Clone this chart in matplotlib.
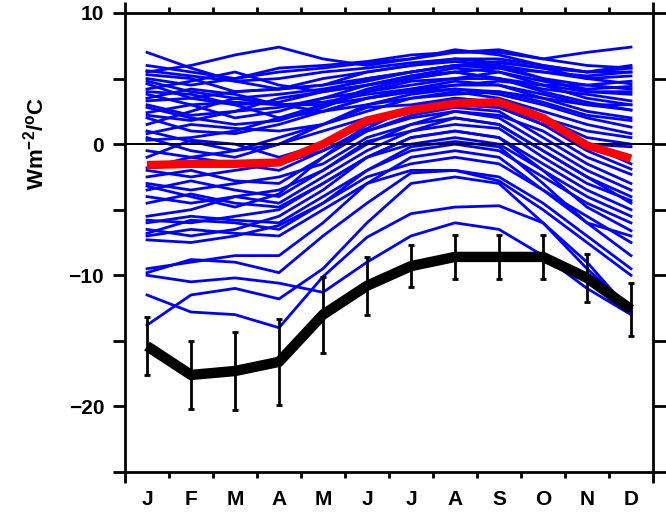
import numpy as np
import matplotlib
matplotlib.use("Agg")
import matplotlib.pyplot as plt

months = ["J", "F", "M", "A", "M", "J", "J", "A", "S", "O", "N", "D"]

model_lines = [
    [7.0, 5.8, 4.8, 4.2, 4.5, 5.0, 5.5, 6.0, 6.0, 5.5, 5.0, 4.6],
    [5.5, 6.0, 6.8, 7.4, 6.5, 6.0, 6.5, 7.0, 7.0, 6.5, 7.0, 7.4],
    [5.3, 5.0, 4.0, 4.2, 5.0, 5.5, 6.0, 6.5, 6.2, 5.8, 5.5, 5.8],
    [5.0, 4.5, 5.0, 5.5, 5.8, 6.2, 6.5, 7.2, 6.8, 6.0, 5.5, 6.0],
    [4.6, 3.5, 3.0, 3.2, 4.0, 5.0, 5.5, 6.0, 5.8, 5.0, 4.5, 4.2],
    [4.2, 4.8, 5.5, 4.5, 4.0, 4.5, 5.2, 5.5, 5.0, 4.2, 3.8, 3.3],
    [3.8, 3.0, 2.0, 2.5, 3.5, 4.0, 4.8, 5.0, 5.5, 4.5, 3.5, 3.0],
    [3.3, 3.5, 4.0, 4.2, 4.5, 5.5, 6.0, 6.3, 6.0, 5.0, 4.0, 4.0],
    [2.8, 2.0, 1.5, 1.8, 2.8, 4.0, 4.5, 5.0, 5.0, 4.0, 3.2, 2.6],
    [2.4, 3.0, 3.2, 3.0, 3.0, 3.5, 4.0, 4.5, 4.5, 3.5, 2.5, 2.0],
    [2.0, 1.0, 0.8, 1.5, 2.5, 3.5, 4.0, 4.2, 3.8, 3.0, 2.0, 1.3],
    [1.5, 2.5, 3.5, 3.0, 2.5, 3.0, 3.5, 3.8, 4.0, 3.5, 3.0, 3.0],
    [0.8, 1.5, 1.2, 1.0, 1.5, 2.5, 3.5, 4.0, 3.5, 2.5, 1.5, 0.8],
    [0.3, 0.5, 1.0, 2.0, 3.0, 4.2, 5.0, 5.5, 5.8, 5.5, 5.2, 5.5],
    [6.0, 5.5, 5.0, 5.8, 6.0, 6.3, 6.8, 7.0, 7.2, 6.5, 6.0, 5.8],
    [4.8, 4.0, 3.5, 3.8, 4.2, 4.8, 5.5, 6.0, 6.3, 5.8, 5.0, 5.2],
    [3.0, 2.2, 2.5, 3.5, 4.0, 4.5, 5.0, 5.5, 5.0, 4.5, 4.0, 3.8],
    [1.0, 0.2, -0.5, 0.5, 1.5, 2.8, 3.0, 3.5, 3.2, 2.0, 1.0, 0.5],
    [-0.5, -1.0, -0.5, 0.0, 1.0, 2.0, 2.5, 3.0, 3.0, 1.5, 0.0, -0.2],
    [-1.0, 0.3, 0.0, -1.0, 0.0, 1.5, 2.5, 3.0, 2.8, 1.5, -0.5, -1.9],
    [-2.0, -2.5, -2.0, -1.5, -0.5, 1.0, 2.0, 2.5, 2.2, 1.0, -1.0, -2.3],
    [-2.5, -2.0, -2.8, -3.0, -1.0, 1.0, 2.2, 2.8, 2.5, 0.5, -1.5, -3.0],
    [-3.0, -3.5, -3.0, -2.5, -1.5, 0.5, 1.5, 2.5, 2.0, 0.0, -2.0, -3.5],
    [-3.5, -2.8, -3.5, -4.0, -2.0, 0.0, 1.5, 2.0, 1.5, -0.5, -2.5, -4.0],
    [-4.0, -4.5, -4.0, -3.5, -2.0, 0.2, 1.0, 1.5, 1.2, -1.0, -3.0, -4.3],
    [-4.5, -3.8, -4.5, -4.8, -3.0, -1.0, 0.5, 1.0, 0.5, -1.5, -3.5, -5.0],
    [-5.8, -6.0, -5.5, -5.0, -3.0, -1.0, 0.0, 0.5, 0.0, -2.0, -4.0, -5.5],
    [-6.0, -5.5, -5.8, -6.0, -4.0, -2.0, -0.5, 0.0, -0.5, -2.5, -4.5, -6.0],
    [-6.5, -7.0, -6.5, -5.5, -3.5, -1.0, 0.5, 1.0, 0.5, -2.0, -4.8, -6.6],
    [-7.0, -6.5, -6.8, -7.0, -5.0, -3.0, -1.0, -0.5, -1.0, -3.5, -5.5, -7.5],
    [-7.3, -7.5, -7.0, -6.2, -4.5, -2.0, -0.2, 0.2, -0.2, -3.0, -6.0, -8.5],
    [-9.5, -9.0, -8.5, -8.5, -6.0, -3.0, -2.0, -2.0, -2.5, -4.5, -7.0, -9.5],
    [-9.8, -8.8, -9.0, -9.8, -7.0, -4.5, -2.2, -2.0, -2.8, -5.0, -7.5, -10.0],
    [-11.5, -12.8, -13.0, -14.0, -10.1, -7.1, -5.3, -4.8, -4.7, -6.0, -9.5, -12.5],
    [-13.8, -11.5, -11.0, -11.8, -9.5, -6.0, -3.0, -2.5, -3.0, -6.0, -9.0, -12.8],
    [-10.0, -10.5, -10.2, -10.6, -11.3, -9.0, -7.0, -6.0, -6.5, -8.5, -11.0, -13.0],
    [5.6, 5.2, 4.8, 5.0, 5.5, 5.8, 6.2, 6.5, 6.5, 6.0, 5.5, 5.5],
    [3.5, 4.2, 3.8, 3.0, 3.2, 3.8, 4.2, 4.8, 4.5, 3.8, 3.0, 2.6],
    [2.2, 1.8, 2.5, 2.8, 3.5, 4.5, 5.2, 5.8, 5.5, 4.8, 4.2, 4.4],
    [-1.8, -1.0, -1.5, -2.0, -0.5, 1.2, 2.8, 3.5, 3.2, 2.0, 0.5, 0.0],
    [-3.2, -4.0, -4.8, -3.8, -1.0, 1.5, 2.5, 3.0, 2.8, 1.5, 0.0, -1.5],
    [-5.5, -5.0, -4.0, -4.5, -2.5, -0.5, 1.0, 2.0, 1.5, -0.5, -2.5, -4.5],
    [-6.8, -5.8, -6.0, -6.5, -4.5, -2.5, -1.5, -1.0, -1.5, -3.5, -6.0, -7.0],
    [0.5, -0.5, -1.0, 0.0, 1.5, 3.0, 3.8, 4.2, 4.0, 3.2, 2.2, 1.8],
    [4.0, 3.8, 3.0, 2.0, 2.5, 3.5, 4.2, 4.5, 4.8, 4.5, 4.5, 4.8],
]

red_line = [-1.6, -1.5, -1.5, -1.4, 0.0, 1.8, 2.6, 3.1, 3.2, 2.0, -0.1, -1.1]

black_line = [-15.4, -17.6, -17.3, -16.6, -13.0, -10.8, -9.3, -8.6, -8.6, -8.6, -10.2, -12.6]
black_err = [2.2, 2.6, 3.0, 3.3, 2.9, 2.2, 1.6, 1.7, 1.7, 1.7, 1.8, 2.0]

plt.rcParams['font.family'] = ['Liberation Sans', 'DejaVu Sans']
plt.rcParams['font.weight'] = 'bold'
plt.rcParams['mathtext.default'] = 'bf'
plt.rcParams['mathtext.fontset'] = 'custom'
plt.rcParams['mathtext.bf'] = 'Liberation Sans:bold'

fig = plt.figure(figsize=(6.66, 5.15), dpi=100)
ax = fig.add_axes([125/666, 43/515, 528/666, 459/515])

x = np.arange(1, 13)
for ln in model_lines:
    ax.plot(x, ln, color='#0000ff', lw=2.0, zorder=2)

ax.axhline(0, color='black', lw=1.4, zorder=3)
ax.plot(x, red_line, color='#ff0000', lw=6, zorder=4, solid_capstyle='butt')
ax.plot(x, black_line, color='black', lw=7.5, zorder=5, solid_capstyle='butt')
ax.errorbar(x, black_line, yerr=black_err, fmt='none', ecolor='black',
            elinewidth=2, capsize=2.5, capthick=2, zorder=6)

ax.set_xlim(0.5, 12.5)
ax.set_ylim(-25, 10)

for s in ax.spines.values():
    s.set_linewidth(2)

ax.set_yticks(np.arange(-25, 11, 5))
ax.set_yticklabels([("\u221220" if v == -20 else "\u221210" if v == -10 else str(v)) if v % 10 == 0 else ""
                    for v in np.arange(-25, 11, 5)])
ax.tick_params(axis='y', which='major', direction='out', length=9, width=2,
               left=True, right=True, labelsize=15, pad=6)

ax.set_xticks(x)
ax.set_xticklabels(months, fontsize=15, fontweight='bold')
ax.set_xticks(np.arange(1.5, 12, 1), minor=True)
ax.tick_params(axis='x', which='major', length=0, pad=13)
ax.tick_params(axis='x', which='minor', direction='out', length=4, width=2,
               bottom=True, top=True)

for loc in ('bottom', 'top'):
    sec = ax.secondary_xaxis(loc)
    sec.set_xticks([0.5, 12.5])
    sec.set_xticklabels(["", ""])
    sec.tick_params(direction='out', length=8, width=2)
    sec.spines[loc].set_visible(False)

ax.set_ylabel("Wm$^{-2}$/$^{o}$C", fontsize=16, fontweight='bold')
ax.yaxis.set_label_coords(-0.145, 0.715)

fig.savefig("out.png", dpi=100)
